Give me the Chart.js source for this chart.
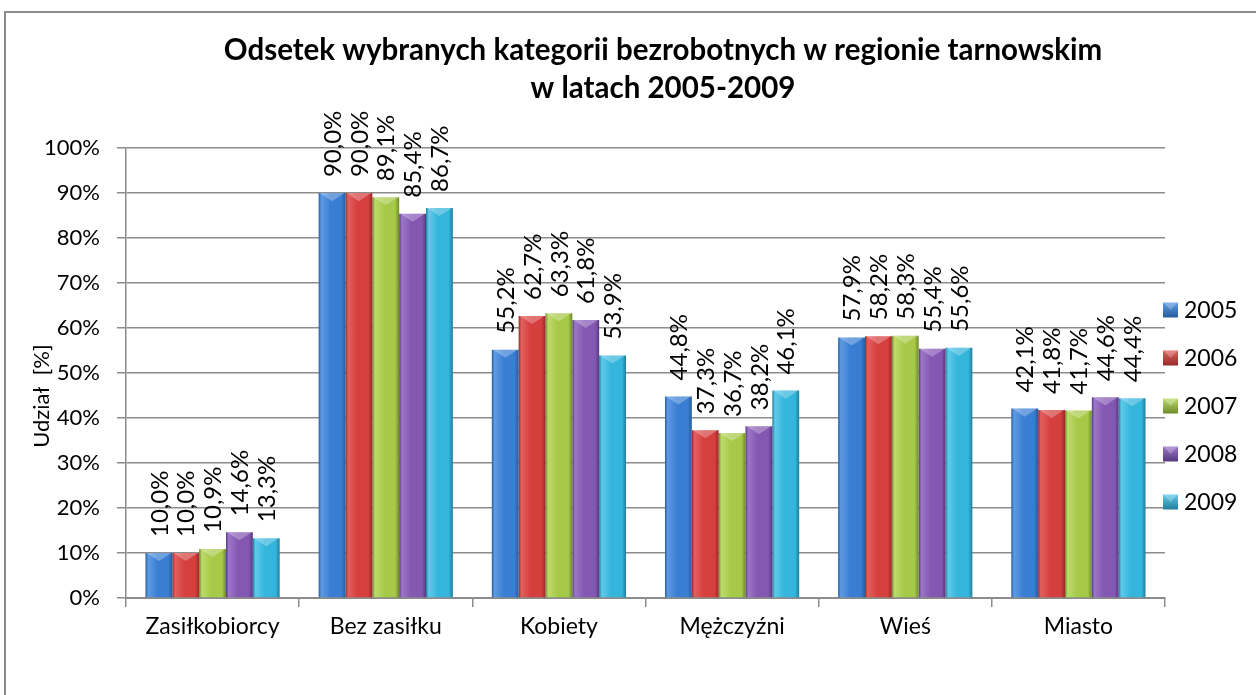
<!DOCTYPE html>
<html lang="pl">
<head>
  <meta charset="UTF-8">
  <title>Odsetek wybranych kategorii bezrobotnych</title>
  <script src="https://cdn.jsdelivr.net/npm/chart.js"></script>
  <style>
    html, body { margin: 0; padding: 0; background: #fff; overflow: hidden; }
    #frame {
      position: absolute; left: 4px; top: 11px;
      width: 1270px; height: 720px;
      border: 2px solid #8c8c8c;
    }
    /* canvas is a bit wider than the window so the title centre sits where Excel put it */
    #wrap { position: absolute; left: 0; top: 0; width: 1326px; height: 695px; }
  </style>
</head>
<body>
  <div id="frame"></div>
  <div id="wrap"><canvas id="chart" width="1326" height="695"></canvas></div>
  <script>
    const categories = ["Zasiłkobiorcy", "Bez zasiłku", "Kobiety", "Mężczyźni", "Wieś", "Miasto"];
    const years = ["2005", "2006", "2007", "2008", "2009"];
    const v2005 = [10.0, 90.0, 55.2, 44.8, 57.9, 42.1];
    const v2006 = [10.0, 90.0, 62.7, 37.3, 58.2, 41.8];
    const v2007 = [10.9, 89.1, 63.3, 36.7, 58.3, 41.7];
    const v2008 = [14.6, 85.4, 61.8, 38.2, 55.4, 44.6];
    const v2009 = [13.3, 86.7, 53.9, 46.1, 55.6, 44.4];
    const yTicks = [0, 10, 20, 30, 40, 50, 60, 70, 80, 90, 100];

    // base / light / dark shade for every series
    const palette = [
      ["#3a7ed3", "#5f9be3", "#275c9c"],
      ["#d53f3e", "#e2605e", "#972928"],
      ["#a6ca48", "#bcdb6c", "#6d8a2b"],
      ["#8357b2", "#9c77c8", "#57397f"],
      ["#34b5db", "#60caeb", "#207e9b"]
    ];
    const FONT = "Lato, 'Open Sans', sans-serif";

    function barFill(i) {
      return (c) => {
        const el = c.element;
        const col = palette[i];
        if (!el || !isFinite(el.x) || !el.width) return col[0];
        const g = c.chart.ctx.createLinearGradient(el.x - el.width / 2, 0, el.x + el.width / 2, 0);
        g.addColorStop(0, col[2]);
        g.addColorStop(0.1, col[1]);
        g.addColorStop(0.45, col[0]);
        g.addColorStop(0.85, col[0]);
        g.addColorStop(1, col[2]);
        return g;
      };
    }

    const seriesValues = [v2005, v2006, v2007, v2008, v2009];
    const datasets = years.map((y, i) => ({
      label: y,
      data: seriesValues[i],
      backgroundColor: barFill(i),
      borderWidth: 0,
      categoryPercentage: 0.775,
      barPercentage: 1.0
    }));

    // top bevel, value labels, axis title and the legend
    const decor = {
      id: "decor",
      afterDatasetsDraw(chart) {
        const ctx = chart.ctx;
        chart.data.datasets.forEach((ds, i) => {
          chart.getDatasetMeta(i).data.forEach((el, j) => {
            const l = el.x - el.width / 2, r = el.x + el.width / 2;
            ctx.save();
            ctx.fillStyle = "rgba(255,255,255,0.28)";
            ctx.beginPath();
            ctx.moveTo(l + 1, el.y);
            ctx.lineTo(r - 1, el.y);
            ctx.lineTo(el.x, el.y + el.width * 0.3);
            ctx.closePath();
            ctx.fill();
            ctx.restore();

            ctx.save();
            ctx.translate(el.x, el.y - 16);
            ctx.rotate(-Math.PI / 2);
            ctx.font = "24px " + FONT;
            ctx.fillStyle = "#000";
            ctx.textAlign = "left";
            ctx.textBaseline = "middle";
            ctx.fillText(ds.data[j].toFixed(1).replace(".", ",") + "%", 0, 1);
            ctx.restore();
          });
        });
      },
      afterDraw(chart) {
        const ctx = chart.ctx;
        const area = chart.chartArea;

        ctx.save();
        ctx.translate(42, (area.top + area.bottom) / 2 + 23);
        ctx.rotate(-Math.PI / 2);
        ctx.font = "22px " + FONT;
        ctx.fillStyle = "#000";
        ctx.textAlign = "center";
        ctx.textBaseline = "middle";
        ctx.fillText("Udział  [%]", 0, 0);
        ctx.restore();

        const x0 = area.right - 2;
        chart.data.datasets.forEach((ds, i) => {
          const yc = 310 + i * 48;
          const col = palette[i];
          const g = ctx.createLinearGradient(0, yc - 7.5, 0, yc + 7.5);
          g.addColorStop(0, col[1]);
          g.addColorStop(1, col[2]);
          ctx.fillStyle = g;
          ctx.fillRect(x0, yc - 7.5, 15, 15);
          ctx.fillStyle = "rgba(255,255,255,0.25)";
          ctx.beginPath();
          ctx.moveTo(x0, yc - 7.5);
          ctx.lineTo(x0 + 15, yc - 7.5);
          ctx.lineTo(x0 + 7.5, yc);
          ctx.closePath();
          ctx.fill();
          ctx.fillStyle = "#000";
          ctx.font = "23px " + FONT;
          ctx.textAlign = "left";
          ctx.textBaseline = "middle";
          ctx.fillText(ds.label, x0 + 21, yc + 1);
        });
      }
    };

    const chart = new Chart(document.getElementById("chart"), {
      type: "bar",
      data: { labels: categories, datasets: datasets },
      plugins: [decor],
      options: {
        responsive: false,
        animation: false,
        layout: { padding: 0 },
        plugins: {
          legend: { display: false },
          tooltip: { enabled: false },
          title: {
            display: true,
            text: ["Odsetek wybranych kategorii bezrobotnych w regionie tarnowskim", "w latach 2005-2009"],
            color: "#000",
            font: { family: FONT, size: 29.5, weight: "bold", lineHeight: 1.29 },
            padding: { top: 31, bottom: 41 }
          }
        },
        scales: {
          x: {
            afterFit(s) { s.height = 97; },
            grid: { display: true, drawOnChartArea: false, drawTicks: true, tickLength: 9, color: "#8c8c8c", lineWidth: 1.5, offset: true },
            border: { display: true, color: "#8c8c8c", width: 2 },
            ticks: { color: "#000", font: { family: FONT, size: 23 }, padding: 6, maxRotation: 0 }
          },
          y: {
            min: 0, max: 100,
            afterFit(s) { s.width = 126; },
            afterBuildTicks(s) { s.ticks = yTicks.map(v => ({ value: v })); },
            grid: { color: "#8c8c8c", lineWidth: 1.5, tickLength: 9 },
            border: { display: true, color: "#8c8c8c", width: 1.5 },
            ticks: { color: "#000", font: { family: FONT, size: 22 }, padding: 17, callback: v => v + "%" }
          },
          // empty space on the right that holds the legend
          side: {
            position: "right",
            min: 0, max: 1,
            afterFit(s) { s.width = 161; },
            grid: { display: false },
            border: { display: false },
            ticks: { display: false }
          }
        }
      }
    });
    chart.update();
  </script>
</body>
</html>
